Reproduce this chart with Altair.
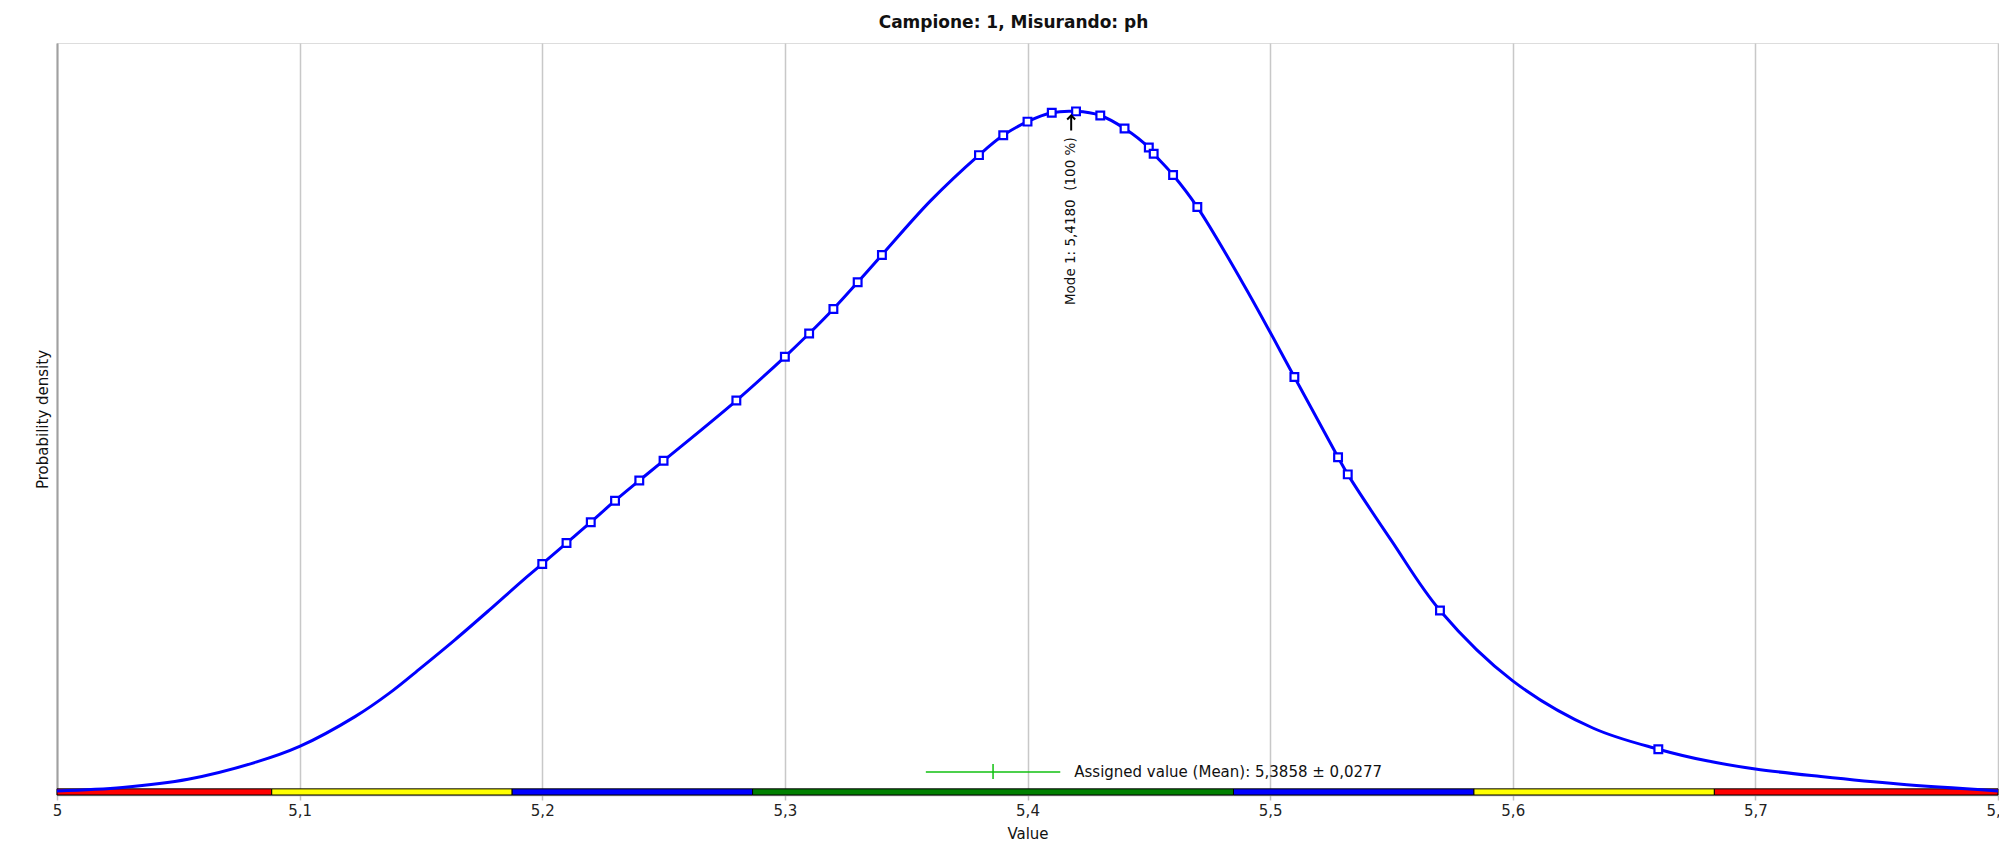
import altair as alt
import pandas as pd

FONT = "DejaVu Sans"

title_text = "Campione: 1, Misurando: ph"
x_title = "Value"
y_title = "Probability density"

# density curve (relative density, peak = 1)
curve_x = [5.000, 5.027, 5.054, 5.082, 5.100, 5.123, 5.137, 5.150, 5.164, 5.178,
           5.192, 5.200, 5.210, 5.220, 5.230, 5.240, 5.250, 5.280, 5.300, 5.310,
           5.320, 5.330, 5.340, 5.360, 5.380, 5.390, 5.400, 5.410, 5.420, 5.430,
           5.440, 5.450, 5.452, 5.460, 5.470, 5.490, 5.510, 5.528, 5.532, 5.550,
           5.570, 5.600, 5.633, 5.660, 5.680, 5.700, 5.727, 5.759, 5.800]
curve_d = [0.006, 0.011, 0.023, 0.048, 0.071, 0.115, 0.149, 0.186, 0.227, 0.270,
           0.314, 0.338, 0.3685, 0.399, 0.4305, 0.460, 0.489, 0.577, 0.641, 0.675,
           0.711, 0.750, 0.790, 0.869, 0.936, 0.965, 0.985, 0.998, 1.000, 0.994,
           0.975, 0.947, 0.938, 0.907, 0.860, 0.741, 0.6115, 0.494, 0.469, 0.372,
           0.270, 0.167, 0.098, 0.067, 0.050, 0.038, 0.027, 0.016, 0.006]

# measured results shown as open squares on the curve
marker_x = [5.20, 5.21, 5.22, 5.23, 5.24, 5.25, 5.28, 5.30, 5.31, 5.32, 5.33, 5.34,
            5.38, 5.39, 5.40, 5.41, 5.42, 5.43, 5.44, 5.45, 5.452, 5.46, 5.47,
            5.51, 5.528, 5.532, 5.57, 5.66]

tick_values = [5.0, 5.1, 5.2, 5.3, 5.4, 5.5, 5.6, 5.7, 5.8]

# coloured score bands along the x axis
band_start = [5.0, 5.0885, 5.1876, 5.2867, 5.4849, 5.5840, 5.6831]
band_end = [5.0885, 5.1876, 5.2867, 5.4849, 5.5840, 5.6831, 5.8]
band_color = ["#ff0000", "#ffff00", "#0000ff", "#008000", "#0000ff", "#ffff00", "#ff0000"]
band_top = 0.009

assigned_mean = 5.3858
assigned_unc = 0.0277
assigned_level = 0.0337
assigned_tick = [0.0234, 0.0454]

mode_value = 5.4180
mode_pct = 100
mode_arrow = [0.972, 0.994]
mode_text_level = 0.962


def fmt(v, n):
    return f"{v:.{n}f}".replace(".", ",")


curve_df = pd.DataFrame({"x": curve_x, "d": curve_d})
lookup = dict(zip(curve_x, curve_d))
marker_df = pd.DataFrame({"x": marker_x, "d": [lookup[round(v, 3)] for v in marker_x]})
band_df = pd.DataFrame({"x": band_start, "x2": band_end, "c": band_color,
                        "y": [0.0] * len(band_start), "y2": [band_top] * len(band_start)})
err_df = pd.DataFrame({"x": [assigned_mean - assigned_unc], "x2": [assigned_mean + assigned_unc],
                       "y": [assigned_level]})
errtick_df = pd.DataFrame({"x": [assigned_mean], "y": [assigned_tick[0]], "y2": [assigned_tick[1]]})
errtext_df = pd.DataFrame({"x": [assigned_mean + assigned_unc], "y": [assigned_level],
                           "t": [f"Assigned value (Mean): {fmt(assigned_mean, 4)} \u00b1 {fmt(assigned_unc, 4)}"]})
arrow_df = pd.DataFrame({"x": [mode_value], "y": [mode_arrow[0]], "y2": [mode_arrow[1]]})
tip_df = pd.DataFrame({"x": [mode_value], "y": [mode_arrow[1]]})
modetext_df = pd.DataFrame({"x": [mode_value], "y": [mode_text_level],
                            "t": [f"Mode 1: {fmt(mode_value, 4)} \u00a0({mode_pct} %)"]})

xscale = alt.Scale(domain=[5.0, 5.8], nice=False, zero=False)
yscale = alt.Scale(domain=[0, 1.1], nice=False, zero=True)
xaxis = alt.Axis(title=x_title, values=tick_values, grid=True, gridColor="#c8c8c8",
                 gridWidth=1.5, labelFlush=False,
                 labelExpr="replace(format(datum.value, '.1~f'), '.', ',')",
                 tickSize=5, tickColor="#c0c0c0", tickWidth=1.5,
                 domainColor="#b0b0b0", domainWidth=1.5,
                 labelFont=FONT, labelFontSize=15, labelColor="#222222", labelPadding=3,
                 titleFont=FONT, titleFontSize=15, titleFontWeight="normal",
                 titleColor="#111111", titlePadding=8)
yaxis = alt.Axis(title=y_title, labels=False, ticks=False, grid=False,
                 domainColor="#a0a0a0", domainWidth=2,
                 titleFont=FONT, titleFontSize=15, titleFontWeight="normal",
                 titleColor="#111111", titlePadding=7)


def X(f):
    return alt.X(f, type="quantitative", scale=xscale, axis=xaxis)


def Y(f):
    return alt.Y(f, type="quantitative", scale=yscale, axis=yaxis)


bands = alt.Chart(band_df).mark_rect(stroke="#000000", strokeWidth=1).encode(
    x=X("x"), x2="x2", y=Y("y"), y2="y2",
    color=alt.Color("c:N", scale=None))

err_h = alt.Chart(err_df).mark_rule(color="#10c010", strokeWidth=1.5).encode(
    x=X("x"), x2="x2", y=Y("y"))
err_v = alt.Chart(errtick_df).mark_rule(color="#10c010", strokeWidth=1.5).encode(
    x=X("x"), y=Y("y"), y2="y2")
err_t = alt.Chart(errtext_df).mark_text(align="left", baseline="middle", dx=14,
                                        font=FONT, fontSize=15, color="#111111").encode(
    x=X("x"), y=Y("y"), text="t:N")

line = alt.Chart(curve_df).mark_line(color="#0000ff", strokeWidth=3,
                                     interpolate="catmull-rom").encode(x=X("x"), y=Y("d"))
points = alt.Chart(marker_df).mark_point(shape="square", filled=True, fill="white",
                                         stroke="#0000ff", strokeWidth=2.2, size=60,
                                         opacity=1).encode(x=X("x"), y=Y("d"))

arrow = alt.Chart(arrow_df).mark_rule(color="#000000", strokeWidth=2).encode(
    x=X("x"), y=Y("y"), y2="y2")
tip = alt.Chart(tip_df).mark_point(shape="M-1,1L0,0L1,1", filled=False, stroke="#000000",
                                   strokeWidth=2, size=64, opacity=1).encode(
    x=X("x"), y=Y("y"))
mode_t = alt.Chart(modetext_df).mark_text(angle=270, align="right", baseline="middle",
                                          font=FONT, fontSize=13.5, color="#111111").encode(
    x=X("x"), y=Y("y"), text="t:N")

chart = alt.layer(bands, err_h, err_v, err_t, line, points, arrow, tip, mode_t).properties(
    width=1941, height=752,
    title=alt.TitleParams(title_text, font=FONT, fontSize=17, fontWeight="bold",
                          color="#111111", offset=11, dx=-14),
    autosize="none",
    padding={"left": 49, "top": 35, "right": 1, "bottom": 50},
).configure_view(stroke="#b8b8b8", strokeWidth=1.5).configure(background="white")

chart.save("out.html", embed_options={"renderer": "svg", "actions": False})
